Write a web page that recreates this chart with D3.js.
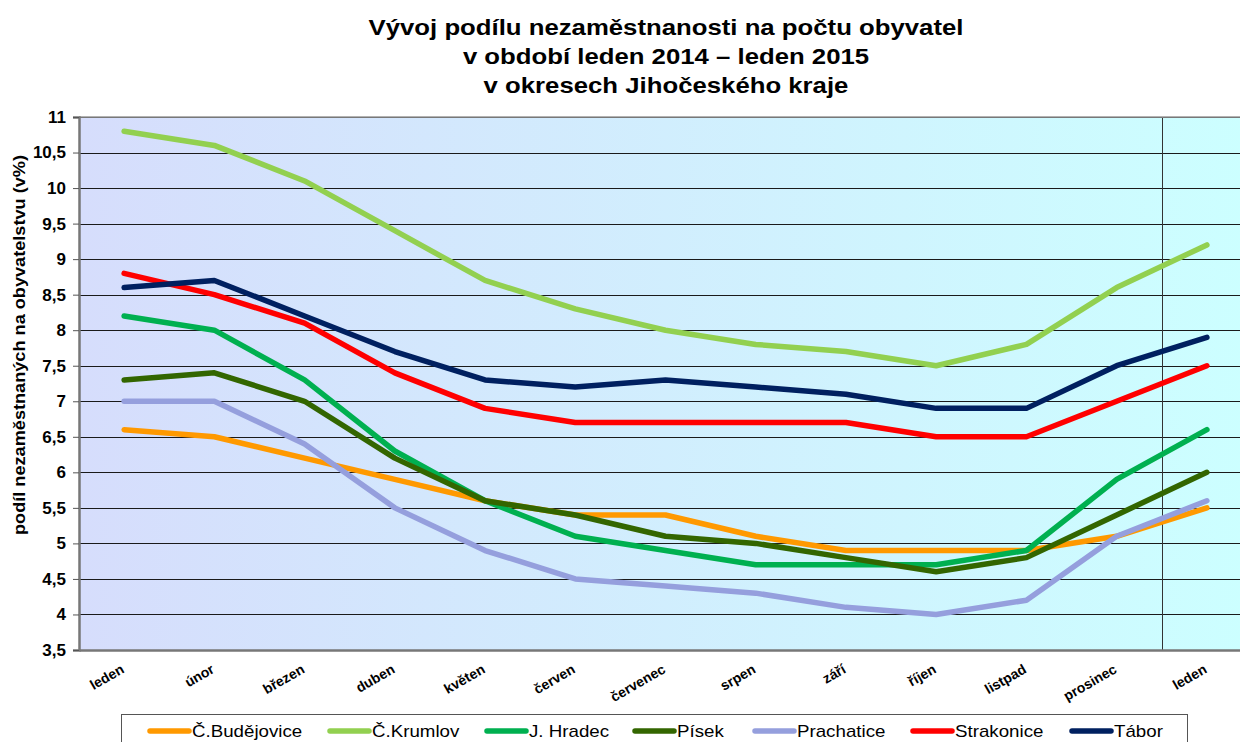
<!DOCTYPE html>
<html><head><meta charset="utf-8">
<script src="https://cdn.jsdelivr.net/npm/d3@7"></script>
<style>
body{margin:0;background:#fff;font-family:"Liberation Sans",Arial,sans-serif;}
svg{display:block;}
</style></head>
<body>
<svg id="c" width="1240" height="742"></svg>
<script>
const months = ["leden","únor","březen","duben","květen","červen","červenec","srpen","září","říjen","listpad","prosinec","leden "];
const yTicks = [3.5,4,4.5,5,5.5,6,6.5,7,7.5,8,8.5,9,9.5,10,10.5,11];
const titleLines = ["Vývoj podílu nezaměstnanosti na počtu obyvatel","v období leden 2014 – leden 2015","v okresech Jihočeského kraje"];
const yTitle = "podíl nezaměstnaných na obyvatelstvu (v%)";

const seriesNames = ["Č.Budějovice","Č.Krumlov","J. Hradec","Písek","Prachatice","Strakonice","Tábor"];
const budejovice = [6.6,6.5,6.2,5.9,5.6,5.4,5.4,5.1,4.9,4.9,4.9,5.1,5.5];
const krumlov    = [10.8,10.6,10.1,9.4,8.7,8.3,8.0,7.8,7.7,7.5,7.8,8.6,9.2];
const hradec     = [8.2,8.0,7.3,6.3,5.6,5.1,4.9,4.7,4.7,4.7,4.9,5.9,6.6];
const pisek      = [7.3,7.4,7.0,6.2,5.6,5.4,5.1,5.0,4.8,4.6,4.8,5.4,6.0];
const prachatice = [7.0,7.0,6.4,5.5,4.9,4.5,4.4,4.3,4.1,4.0,4.2,5.1,5.6];
const strakonice = [8.8,8.5,8.1,7.4,6.9,6.7,6.7,6.7,6.7,6.5,6.5,7.0,7.5];
const tabor      = [8.6,8.7,8.2,7.7,7.3,7.2,7.3,7.2,7.1,6.9,6.9,7.5,7.9];
const colors = ["#ff9900","#92d050","#00b050","#336600","#959fdd","#ff0000","#002060"];

const seriesValues = [budejovice,krumlov,hradec,pisek,prachatice,strakonice,tabor];
const series = seriesNames.map((n,i)=>({name:n,values:seriesValues[i],color:colors[i]}));

const svg = d3.select("#c");
const L = 79, R = 1252, T = 117, B = 650;
const SX = 1.17; // horizontal text stretch seen in the reference

const x = d3.scaleBand().domain(months).range([L,R]);
const y = d3.scaleLinear().domain([3.5,11]).range([B,T]);

// background gradient
const defs = svg.append("defs");
const g = defs.append("linearGradient").attr("id","bg").attr("x1","0%").attr("x2","100%");
g.append("stop").attr("offset","0%").attr("stop-color","#d6ddfc");
g.append("stop").attr("offset","100%").attr("stop-color","#ccffff");
svg.append("rect").attr("x",L).attr("y",T).attr("width",R-L).attr("height",B-T).attr("fill","url(#bg)");

// gridlines
svg.append("g").selectAll("line").data(yTicks.filter(v=>v>3.5)).join("line")
  .attr("x1",L).attr("x2",R).attr("y1",d=>Math.round(y(d))+0.5).attr("y2",d=>Math.round(y(d))+0.5)
  .attr("stroke","#1a1a1a").attr("stroke-width",1);

// vertical separator between years
svg.append("line").attr("x1",Math.round(x(months[12]))+0.5).attr("x2",Math.round(x(months[12]))+0.5)
  .attr("y1",T).attr("y2",B).attr("stroke","#333").attr("stroke-width",1);

// plot border top
svg.append("line").attr("x1",L).attr("x2",R).attr("y1",T).attr("y2",T).attr("stroke","#999").attr("stroke-width",1.5);

// y axis
const yAxis = d3.axisLeft(y).tickValues(yTicks).tickSize(6).tickPadding(7)
  .tickFormat(d=>String(d).replace(".",","));
const ya = svg.append("g").attr("transform",`translate(${L},0)`).call(yAxis);
ya.select(".domain").attr("stroke","#777").attr("stroke-width",2.5);
ya.selectAll(".tick line").attr("stroke","#555");
ya.selectAll("text").attr("font-size",17).attr("font-weight","bold").attr("fill","#000")
  .attr("font-family","'Liberation Sans',Arial,sans-serif");

// x axis
const xAxis = d3.axisBottom(x).tickSize(0).tickPadding(0);
const xa = svg.append("g").attr("transform",`translate(0,${B})`).call(xAxis);
xa.select(".domain").attr("stroke","#777").attr("stroke-width",2.5);
xa.selectAll("text").attr("font-size",14).attr("font-weight","bold").attr("fill","#000")
  .attr("font-family","'Liberation Sans',Arial,sans-serif")
  .attr("text-anchor","end").attr("dy",0).attr("y",0)
  .attr("transform","translate(1,22) rotate(-30)");

// lines
const line = d3.line().x((d,i)=>x(months[i])+x.bandwidth()/2).y(d=>y(d));
svg.append("g").selectAll("path").data(series).join("path")
  .attr("d",d=>line(d.values)).attr("fill","none").attr("stroke",d=>d.color)
  .attr("stroke-width",5.5).attr("stroke-linecap","round").attr("stroke-linejoin","round");

// title
svg.append("g").selectAll("text").data(titleLines).join("text")
  .attr("transform",(d,i)=>`translate(666,${35+i*29}) scale(${SX},1)`).attr("text-anchor","middle")
  .attr("font-size",22).attr("font-weight","bold").attr("fill","#000").text(d=>d);

// y title
svg.append("text").attr("transform","translate(25,345) rotate(-90)").attr("text-anchor","middle")
  .attr("font-size",17).attr("font-weight","bold")
  .attr("textLength",380).attr("lengthAdjust","spacingAndGlyphs").text(yTitle);

// legend
const lg = svg.append("g");
lg.append("rect").attr("x",121.5).attr("y",714.5).attr("width",1066).attr("height",40)
  .attr("fill","#fff").attr("stroke","#555").attr("stroke-width",1);
const legX = [148,328,485,633,753,911,1070];
const items = lg.selectAll("g").data(series).join("g").attr("transform",(d,i)=>`translate(${legX[i]},731)`);
items.append("line").attr("x1",2).attr("x2",41).attr("y1",0).attr("y2",0)
  .attr("stroke",d=>d.color).attr("stroke-width",5.5).attr("stroke-linecap","round");
items.append("text").attr("transform",`translate(44,6) scale(${SX},1)`)
  .attr("font-size",16).attr("fill","#000").text(d=>d.name);
</script>
</body></html>
